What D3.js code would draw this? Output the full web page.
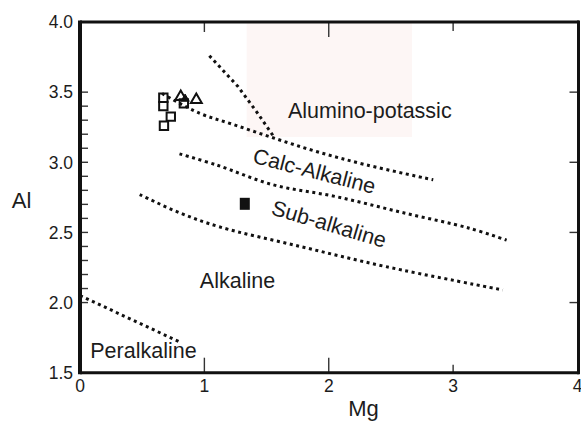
<!DOCTYPE html>
<html><head><meta charset="utf-8">
<script src="https://cdn.jsdelivr.net/npm/d3@7"></script>
<style>
html,body{margin:0;padding:0;background:#fff;overflow:hidden}
svg{display:block}
text{font-family:"Liberation Sans",Arial,sans-serif;fill:#1c1c1c}
</style></head>
<body>
<svg id="c" width="581" height="423"></svg>
<script>
// ---- data ----
const xTicks = [0, 1, 2, 3, 4];
const xTickLabels = ["0", "1", "2", "3", "4"];
const yTicks = [1.5, 2.0, 2.5, 3.0, 3.5, 4.0];
const yTickLabels = ["1.5", "2.0", "2.5", "3.0", "3.5", "4.0"];
const yMinorTicks = [2.0,2.1,2.2,2.3,2.4,2.5,2.6,2.7,2.8,2.9,3.0,3.1,3.2,3.3,3.4,3.5];
const xInnerTicks = [1, 2, 3];
const yRightTicks = [2.0, 2.5, 3.0, 3.5];

const openSquares = [[0.67,3.46],[0.67,3.40],[0.73,3.325],[0.675,3.26],[0.835,3.42]];
const openTriangles = [[0.81,3.466],[0.935,3.446]];
const filledTriangles = [[0.845,3.452]];
const filledSquares = [[1.325,2.704]];

const boundaryAlumino = [[0.66,3.49],[0.96,3.35],[1.23,3.27],[1.55,3.175],[1.90,3.077],[2.30,2.982],[2.84,2.875]];
const boundarySteep = [[1.04,3.76],[1.27,3.54],[1.42,3.36],[1.56,3.18]];
const boundaryCalc = [[0.80,3.06],[1.10,2.98],[1.55,2.84],[2.06,2.755],[2.6,2.64],[3.13,2.53],[3.43,2.445]];
const boundarySub = [[0.48,2.77],[0.80,2.64],[1.12,2.54],[1.77,2.40],[2.46,2.256],[3.40,2.09]];
const boundaryPer = [[0,2.05],[0.8,1.72]];

const shadedRegion = {x0:1.34, x1:2.67, y0:3.18, y1:4.0};

const regionNames = ["Alumino-potassic","Calc-Alkaline","Sub-alkaline","Alkaline","Peralkaline"];
const regionX = [2.33, 1.87, 1.985, 1.266, 0.51];
const regionY = [3.316, 2.886, 2.51, 2.104, 1.605];
const regionAngle = [0, 14.5, 16.5, 0, 0];

const xTitle = "Mg", yTitle = "Al";

// ---- drawing ----
const svg = d3.select("#c");
const x = d3.scaleLinear().domain([0,4]).range([80, 577.5]);
const y = d3.scaleLinear().domain([1.5,4]).range([372.7, 22]);

svg.append("rect").attr("x",x(shadedRegion.x0)).attr("y",y(shadedRegion.y1))
  .attr("width",x(shadedRegion.x1)-x(shadedRegion.x0))
  .attr("height",y(shadedRegion.y0)-y(shadedRegion.y1))
  .attr("fill","#fdf6f5");

// ticks
const tk = svg.append("g").attr("stroke","#333").attr("stroke-width",1.4);
yMinorTicks.forEach(v=>tk.append("line").attr("x1",x(0)).attr("x2",x(0)+8).attr("y1",y(v)).attr("y2",y(v)));
yRightTicks.forEach(v=>tk.append("line").attr("x1",x(4)-8).attr("x2",x(4)).attr("y1",y(v)).attr("y2",y(v)));
const topLen = [10, 15, 9], botLen = [15, 15, 8];
xInnerTicks.forEach((v,i)=>{
  tk.append("line").attr("x1",x(v)).attr("x2",x(v)).attr("y1",y(4)).attr("y2",y(4)+topLen[i]);
  tk.append("line").attr("x1",x(v)).attr("x2",x(v)).attr("y1",y(1.5)).attr("y2",y(1.5)-botLen[i]);
});

// boundaries
const line = d3.line().x(d=>x(d[0])).y(d=>y(d[1]));
const curved = d3.line().x(d=>x(d[0])).y(d=>y(d[1])).curve(d3.curveCatmullRom);
[boundaryAlumino, boundaryCalc, boundarySub].forEach(b=>{
  svg.append("path").attr("d",curved(b)).attr("fill","none").attr("stroke","#111")
    .attr("stroke-width",3).attr("stroke-dasharray","3,3.6");
});
[boundarySteep, boundaryPer].forEach(b=>{
  svg.append("path").attr("d",line(b)).attr("fill","none").attr("stroke","#111")
    .attr("stroke-width",3).attr("stroke-dasharray","3,3.6");
});

// frame
svg.append("line").attr("x1",x(0)).attr("x2",x(4)+1.5).attr("y1",y(4)).attr("y2",y(4)).attr("stroke","#111").attr("stroke-width",3);
svg.append("line").attr("x1",x(0)).attr("x2",x(4)+1.5).attr("y1",y(1.5)).attr("y2",y(1.5)).attr("stroke","#111").attr("stroke-width",3);
svg.append("line").attr("x1",x(0)).attr("x2",x(0)).attr("y1",y(4)-1.5).attr("y2",y(1.5)+1.5).attr("stroke","#111").attr("stroke-width",4);
svg.append("line").attr("x1",x(4)+1).attr("x2",x(4)+1).attr("y1",y(4)-1.5).attr("y2",y(1.5)+1.5).attr("stroke","#111").attr("stroke-width",3);

// markers
const sq = d3.symbol().type(d3.symbolSquare).size(70);
const tri = d3.symbol().type(d3.symbolTriangle).size(52);
const triS = d3.symbol().type(d3.symbolTriangle).size(30);
svg.selectAll(".os").data(openSquares).join("path").attr("d",sq)
  .attr("transform",d=>`translate(${x(d[0])},${y(d[1])})`)
  .attr("fill","none").attr("stroke","#111").attr("stroke-width",2);
svg.selectAll(".ot").data(openTriangles).join("path").attr("d",tri)
  .attr("transform",d=>`translate(${x(d[0])},${y(d[1])})`)
  .attr("fill","none").attr("stroke","#111").attr("stroke-width",2);
svg.selectAll(".ft").data(filledTriangles).join("path").attr("d",triS)
  .attr("transform",d=>`translate(${x(d[0])},${y(d[1])})`)
  .attr("fill","#111").attr("stroke","#111").attr("stroke-width",1);
svg.selectAll(".fs").data(filledSquares).join("rect")
  .attr("x",d=>x(d[0])-5).attr("y",d=>y(d[1])-6).attr("width",10).attr("height",12)
  .attr("fill","#111");

// tick labels
svg.selectAll(".yl").data(yTicks).join("text").attr("x",73).attr("y",d=>y(d))
  .attr("dy","0.36em").attr("text-anchor","end").attr("font-size",17.5).text((d,i)=>yTickLabels[i]);
svg.selectAll(".xl").data(xTicks).join("text").attr("x",d=>x(d)).attr("y",392)
  .attr("text-anchor","middle").attr("font-size",17.5).text((d,i)=>xTickLabels[i]);

// region labels
regionNames.forEach((n,i)=>{
  svg.append("text").attr("text-anchor","middle").attr("font-size",21.5)
    .attr("transform",`translate(${x(regionX[i])},${y(regionY[i])}) rotate(${regionAngle[i]})`)
    .text(n);
});

// axis titles
svg.append("text").attr("x",363.5).attr("y",416).attr("text-anchor","middle").attr("font-size",22).text(xTitle);
svg.append("text").attr("x",21.5).attr("y",207.5).attr("text-anchor","middle").attr("font-size",22).text(yTitle);
</script>
</body></html>
